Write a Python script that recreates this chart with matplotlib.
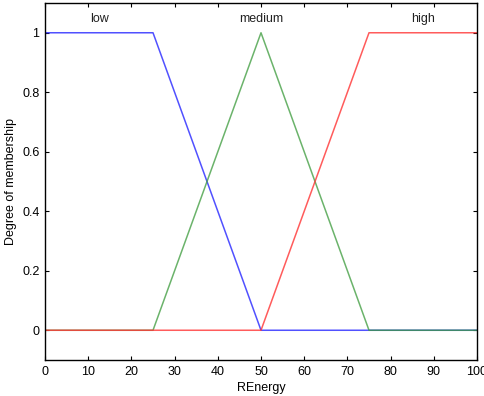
import matplotlib.pyplot as plt
import numpy as np

# membership function breakpoints for REnergy
x_low = [0, 25, 50, 100]
y_low = [1, 1, 0, 0]
x_medium = [0, 25, 50, 75, 100]
y_medium = [0, 0, 1, 0, 0]
x_high = [0, 50, 75, 100]
y_high = [0, 0, 1, 1]

mf_names = ['low', 'medium', 'high']
mf_centers = [12.5, 50, 87.5]

plt.rcParams['font.family'] = ['Liberation Sans', 'DejaVu Sans']

fig = plt.figure(figsize=(4.85, 3.96), dpi=100)
ax = fig.add_axes([0.0928, 0.0909, 0.8907, 0.9015])

ax.plot(x_low, y_low, color='#3333ff', lw=1.1, alpha=0.85)
ax.plot(x_medium, y_medium, color='#3a9a3a', lw=1.1, alpha=0.75)
ax.plot(x_high, y_high, color='#ff3333', lw=1.1, alpha=0.8)

for name, cx in zip(mf_names, mf_centers):
    ax.text(cx, 1.045, name, ha='center', va='center', fontsize=9, color='#222222')

ax.set_xlim(0, 100)
ax.set_ylim(-0.1, 1.1)
ax.set_xticks(np.arange(0, 101, 10))
ax.set_yticks([0, 0.2, 0.4, 0.6, 0.8, 1])
ax.set_yticklabels(['0', '0.2', '0.4', '0.6', '0.8', '1'])
ax.tick_params(direction='in', length=3, width=0.8, top=True, right=True, labelsize=9, pad=4)
for s in ax.spines.values():
    s.set_linewidth(1.0)

ax.set_xlabel('REnergy', fontsize=9, labelpad=3)
ax.set_ylabel('Degree of membership', fontsize=9, labelpad=4)

plt.savefig('out.png', dpi=100)
